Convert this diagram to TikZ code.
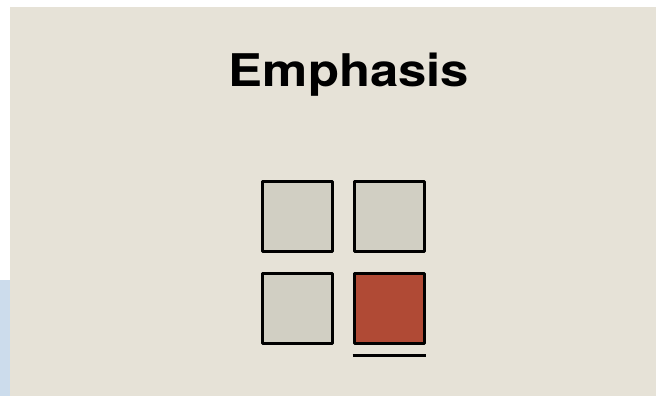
\documentclass[tikz,border=0pt]{standalone}
\usepackage{fontspec}
\setmainfont{TeX Gyre Heros}
\usepackage{tikz}

\definecolor{paper}{HTML}{E6E2D7}
\definecolor{tile}{HTML}{D1CFC3}
\definecolor{accent}{HTML}{B04A35}
\definecolor{edgeblue}{HTML}{CCDCEC}

\begin{document}
\begin{tikzpicture}[x=1pt, y=-1pt, every node/.style={inner sep=0pt, outer sep=0pt},
	tilebox/.style={draw=black, line width=3pt, fill=tile, minimum size=70pt, line join=round}]
	\useasboundingbox (0,0) rectangle (656,396);
	\fill[white] (0,0) rectangle (656,396);
	\fill[paper] (10,7) rectangle (656,396);
	\fill[edgeblue] (0,280) rectangle (10,396);
	\node[anchor=base, font=\fontsize{45}{45}\selectfont\bfseries, xscale=1.13] (title) at (349,87) {Emphasis};
	\node[tilebox] (tl) at (297.5,216) {};
	\node[tilebox] (tr) at (389,216) {};
	\node[tilebox] (bl) at (297.5,308.5) {};
	\node[tilebox, fill=accent] (br) at (389,308.5) {};
	\draw[line width=3pt] ([xshift=-1.5pt, yshift=-11.5pt]br.south west) -- ([xshift=1.5pt, yshift=-11.5pt]br.south east);
\end{tikzpicture}
\end{document}
